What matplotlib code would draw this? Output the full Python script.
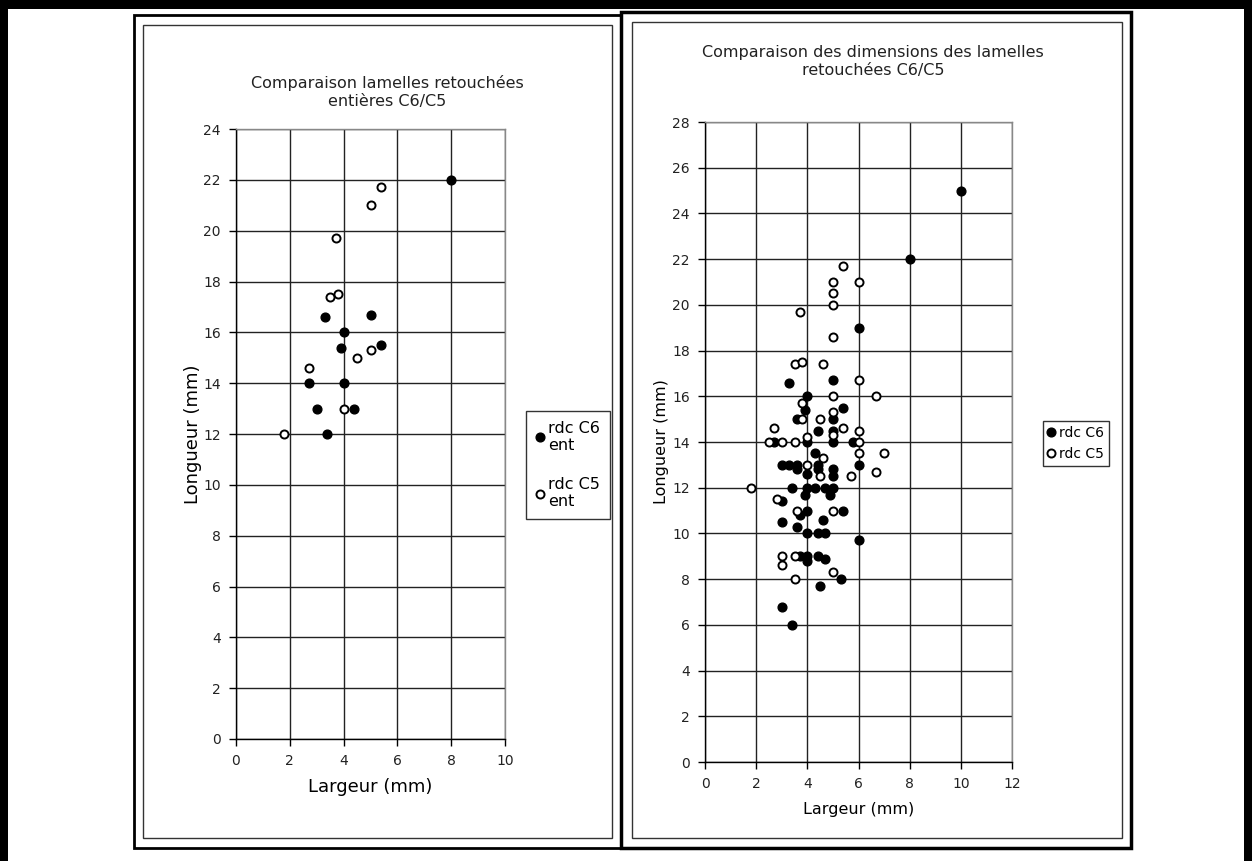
import matplotlib
matplotlib.use("Agg")
import matplotlib.pyplot as plt
from matplotlib.patches import Rectangle

# ---------------- data ----------------
# Left chart: whole retouched bladelets (entières)
left_c6_x = [8, 3.3, 5, 4, 3.9, 5.4, 2.7, 4, 3, 4.4, 3.4]
left_c6_y = [22, 16.6, 16.7, 16, 15.4, 15.5, 14, 14, 13, 13, 12]
left_c5_x = [5.4, 5, 3.7, 3.5, 3.8, 4.5, 5, 2.7, 4, 1.8]
left_c5_y = [21.7, 21, 19.7, 17.4, 17.5, 15, 15.3, 14.6, 13, 12]

# Right chart: all retouched bladelets
right_c6_x = [10, 8, 6, 3.3, 5, 4, 3.9, 5.4, 3.6, 5, 4.4, 5, 2.7, 4, 5, 5.8,
              4.3, 3, 3.3, 3.6, 4.4, 6, 3.6, 4.4, 5, 4, 5, 3.4, 4, 4.3, 4.7, 5,
              3.9, 4.9, 3, 4, 5.4, 3.7, 4.6, 3, 3.6, 4, 4.4, 4.7, 6, 3.7, 4,
              4.4, 4.7, 4, 5.3, 4.5, 3, 3.4]
right_c6_y = [25, 22, 19, 16.6, 16.7, 16, 15.4, 15.5, 15, 15, 14.5, 14.5, 14, 14, 14, 14,
              13.5, 13, 13, 13, 13, 13, 12.8, 12.8, 12.8, 12.6, 12.5, 12, 12, 12, 12, 12,
              11.7, 11.7, 11.4, 11, 11, 10.8, 10.6, 10.5, 10.3, 10, 10, 10, 9.7, 9, 9,
              9, 8.9, 8.8, 8, 7.7, 6.8, 6]
right_c5_x = [5.4, 5, 6, 5, 5, 3.7, 5, 3.5, 3.8, 4.6, 6, 5, 6.7, 3.8, 5, 3.8,
              4.5, 2.7, 5.4, 6, 5, 4, 2.5, 3, 3.5, 6, 6, 7, 4.6, 4, 4.5, 5.7,
              6.7, 1.8, 2.8, 3.6, 5, 3, 3.5, 3, 5, 3.5]
right_c5_y = [21.7, 21, 21, 20.5, 20, 19.7, 18.6, 17.4, 17.5, 17.4, 16.7, 16, 16, 15.7, 15.3, 15,
              15, 14.6, 14.6, 14.5, 14.3, 14.2, 14, 14, 14, 14, 13.5, 13.5, 13.3, 13, 12.5, 12.5,
              12.7, 12, 11.5, 11, 11, 9, 9, 8.6, 8.3, 8]

left_title = "Comparaison lamelles retouchées\nentières C6/C5"
right_title = "Comparaison des dimensions des lamelles\nretouchées C6/C5"
x_label = "Largeur (mm)"
y_label = "Longueur (mm)"
left_labels = ["rdc C6\nent", "rdc C5\nent"]
right_labels = ["rdc C6", "rdc C5"]

# ---------------- layout helpers ----------------
W, H = 1252, 861
plt.rcParams['font.family'] = ['DejaVu Sans']
fig = plt.figure(figsize=(W / 100, H / 100), dpi=100)
fig.patch.set_facecolor('white')


def rect(x0, y0, x1, y1, **kw):
    r = Rectangle((x0 / W, 1 - y1 / H), (x1 - x0) / W, (y1 - y0) / H,
                  transform=fig.transFigure, **kw)
    fig.add_artist(r)


# outer thick frame of the page
rect(0, 0, W, 9, facecolor='black', edgecolor='none')
rect(0, 0, 8, H, facecolor='black', edgecolor='none')
rect(W - 8, 0, W, H, facecolor='black', edgecolor='none')

# boxes around each chart
rect(134, 15, 621, 848, fill=False, edgecolor='black', lw=2.0)
rect(621, 12, 1131, 848, fill=False, edgecolor='black', lw=2.5)
# inner chart-area borders
rect(143, 25, 612, 838, fill=False, edgecolor='#333333', lw=1.0)
rect(632, 22, 1122, 838, fill=False, edgecolor='#333333', lw=1.0)


def style_axes(ax, xmax, ymax):
    ax.set_xlim(0, xmax)
    ax.set_ylim(0, ymax)
    ax.set_xticks(range(0, xmax + 1, 2))
    ax.set_yticks(range(0, ymax + 1, 2))
    ax.grid(True, color='#222222', lw=1.0)
    ax.set_axisbelow(True)
    for s in ['top', 'right']:
        ax.spines[s].set_color('#888888')
        ax.spines[s].set_linewidth(1.0)
    for s in ['left', 'bottom']:
        ax.spines[s].set_color('black')
        ax.spines[s].set_linewidth(1.0)
    ax.tick_params(direction='out', length=5, width=1, labelsize=10,
                   colors='black', labelcolor='#222222', pad=6)


def plot_series(ax, c6x, c6y, c5x, c5y, labels):
    h1, = ax.plot(c6x, c6y, 'o', ls='none', ms=6.3, mfc='black', mec='black',
                  clip_on=False, zorder=3, label=labels[0])
    h2, = ax.plot(c5x, c5y, 'o', ls='none', ms=5.8, mfc='white', mec='black',
                  mew=1.4, clip_on=False, zorder=3, label=labels[1])
    return h1, h2


# ---------------- left chart ----------------
axL = fig.add_axes([236 / W, 1 - 739 / H, (505 - 236) / W, (739 - 129) / H])
style_axes(axL, 10, 24)
hL = plot_series(axL, left_c6_x, left_c6_y, left_c5_x, left_c5_y, left_labels)
axL.set_xlabel(x_label, fontsize=13, labelpad=7)
axL.set_ylabel(y_label, fontsize=13, labelpad=1)
fig.text(387 / W, 1 - 92 / H, left_title, ha='center', va='center',
         fontsize=11.5, linespacing=1.25, color='#222222')
legL = fig.legend(handles=hL, labels=left_labels, loc='upper left',
                  bbox_to_anchor=(526 / W, 1 - 411 / H), frameon=True,
                  fancybox=False, edgecolor='black', fontsize=11.5,
                  handlelength=0.5, handletextpad=0.3, labelspacing=1.5,
                  borderpad=0.6, borderaxespad=0, markerscale=1.0)
legL.get_frame().set_linewidth(1.0)

# ---------------- right chart ----------------
axR = fig.add_axes([705 / W, 1 - 762 / H, (1012 - 705) / W, (762 - 122) / H])
style_axes(axR, 12, 28)
hR = plot_series(axR, right_c6_x, right_c6_y, right_c5_x, right_c5_y, right_labels)
axR.set_xlabel(x_label, fontsize=11.5, labelpad=8)
axR.set_ylabel(y_label, fontsize=11.5, labelpad=2)
fig.text(873 / W, 1 - 61 / H, right_title, ha='center', va='center',
         fontsize=11.5, linespacing=1.25, color='#222222')
legR = fig.legend(handles=hR, labels=right_labels, loc='upper left',
                  bbox_to_anchor=(1043 / W, 1 - 421 / H), frameon=True,
                  fancybox=False, edgecolor='black', fontsize=10,
                  handlelength=0.5, handletextpad=0.3, labelspacing=0.5,
                  borderpad=0.35, borderaxespad=0, markerscale=1.0)
legR.get_frame().set_linewidth(1.0)

fig.savefig('out.png', dpi=100, facecolor='white')
